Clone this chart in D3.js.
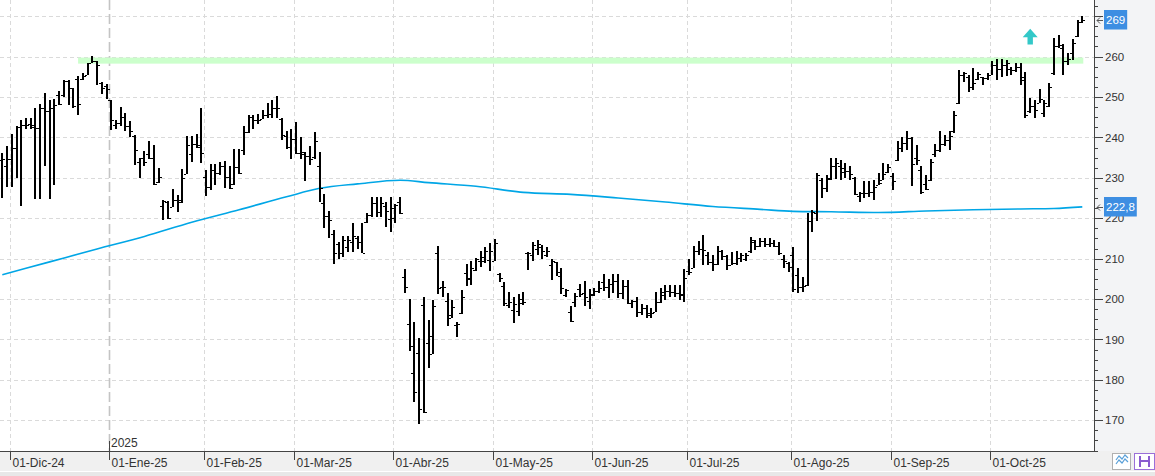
<!DOCTYPE html>
<html>
<head>
<meta charset="utf-8">
<script src="https://cdn.jsdelivr.net/npm/d3@7"></script>
<style>
html, body { margin: 0; padding: 0; background: #fff; }
svg { display: block; font-family: "Liberation Sans", Arial, sans-serif; }
</style>
</head>
<body>
<div id="chart"></div>
<script>
// daily bars, NYSE calendar
var firstDay = "2024-11-27", lastDay = "2025-10-28";
var holidays = ["2024-11-28", "2024-12-25", "2025-01-01", "2025-01-09", "2025-01-20",
                "2025-02-17", "2025-04-18", "2025-05-26", "2025-06-19", "2025-07-04", "2025-09-01"];

var highs = [
  236.1,237.9,240.8,242.8,244.3,244.7,244.7,247.2,248.2,250.9,
  249.3,249.4,251.5,254.2,254.3,252.3,255.2,255.9,258.5,260.2,
  259.0,253.8,253.3,249.3,244.2,247.5,246.0,244.0,240.5,235.0,
  236.6,239.2,238.2,232.4,224.5,224.3,227.2,225.8,232.2,240.3,
  240.3,240.8,247.2,232.0,233.3,233.4,234.0,234.2,232.8,237.1,
  237.2,242.8,245.5,245.5,245.9,246.8,248.4,249.3,250.2,244.9,
  241.7,242.1,243.9,240.2,236.3,237.9,241.4,236.3,226.0,221.8,
  217.1,214.0,215.5,215.5,218.7,215.5,218.7,221.2,225.2,225.2,
  225.2,224.1,225.2,223.4,225.2,207.5,199.9,194.3,190.3,200.6,
  194.7,199.8,213.1,204.4,201.6,199.8,194.4,202.2,208.6,209.3,
  210.1,211.9,212.8,213.9,214.9,206.5,204.3,201.8,200.5,201.2,
  201.7,211.7,214.0,214.5,213.4,213.0,210.0,209.2,207.7,202.5,
  198.4,201.4,203.7,204.5,202.6,202.8,204.5,206.3,204.9,206.1,
  206.3,204.6,204.7,199.8,200.6,198.7,198.5,197.7,201.8,202.7,
  203.5,203.6,203.5,203.5,207.5,210.0,213.1,214.3,215.8,211.7,
  210.8,213.1,212.1,211.0,211.7,211.8,211.3,211.5,215.4,214.6,
  215.1,215.1,215.0,214.6,214.2,210.8,209.2,212.8,207.8,205.4,
  221.2,222.0,231.3,229.9,230.7,235.0,235.0,234.4,233.6,232.9,
  230.3,226.6,229.1,229.1,229.5,231.1,233.6,233.4,231.1,239.0,
  240.0,241.6,240.0,238.1,232.8,230.7,234.6,238.3,241.5,240.6,
  241.5,246.6,256.7,256.3,255.5,257.1,256.3,255.0,255.9,258.8,
  259.3,259.3,259.2,257.5,258.5,258.5,256.3,249.7,249.3,251.9,
  249.3,253.4,264.5,265.4,263.1,261.0,264.3,269.1,270.1
];
var lows = [
  224.9,227.8,227.8,229.9,223.1,242.2,242.2,224.7,224.7,232.8,
  224.7,228.1,248.0,250.1,248.0,247.2,245.5,254.2,255.5,258.3,
  253.0,250.8,249.4,241.9,242.1,242.7,241.5,240.2,233.2,229.9,
  232.8,234.7,228.3,228.7,219.5,219.9,222.9,221.6,223.7,231.0,
  234.0,237.3,233.6,225.6,226.9,228.2,230.7,227.4,227.3,228.2,
  230.9,235.6,241.2,242.0,243.2,244.5,244.9,244.7,244.9,239.3,
  237.2,234.7,235.9,234.7,229.1,233.2,234.7,224.1,217.5,215.0,
  208.7,209.9,210.5,211.6,211.6,212.5,211.3,218.7,220.4,220.4,
  220.4,217.9,216.5,218.9,221.0,201.4,187.1,174.5,169.2,171.8,
  183.0,186.4,201.2,200.6,193.3,195.4,190.6,196.4,203.3,203.4,
  206.9,208.0,208.9,207.0,209.3,204.1,198.3,197.9,194.1,195.8,
  198.6,207.2,209.5,211.0,210.0,210.3,204.8,205.6,201.2,200.6,
  194.4,198.1,200.4,198.4,197.6,200.8,201.6,202.1,200.3,201.4,
  200.3,200.0,198.7,197.7,195.6,196.0,195.2,195.2,196.8,199.0,
  199.8,200.6,200.6,199.8,199.3,205.9,207.6,210.8,208.4,208.4,
  206.9,208.4,209.6,207.1,208.4,208.4,209.1,209.4,211.5,212.1,
  213.0,213.0,213.0,212.8,210.8,207.6,206.8,201.8,201.6,201.8,
  203.3,216.7,219.2,224.9,226.4,229.5,229.6,229.5,229.9,229.5,
  225.8,223.9,225.0,225.3,224.5,228.2,229.5,231.3,227.0,234.2,
  236.5,236.9,228.0,233.2,226.1,227.0,229.1,235.1,236.5,237.8,
  237.0,241.1,248.3,253.8,251.3,251.8,254.2,253.0,254.2,255.5,
  254.2,255.0,255.2,255.5,256.3,253.0,244.7,246.0,244.7,248.4,
  245.1,247.5,255.5,262.1,255.5,257.9,259.2,264.8,268.3
];
var opens = [
  234.4,233.0,234.6,237.5,242.6,243.1,243.4,243.0,242.3,247.2,
  246.5,247.2,250.5,250.5,254.0,252.2,254.5,254.5,255.5,258.5,
  258.8,253.5,252.8,249.3,243.0,243.6,245.0,242.8,240.3,234.0,
  234.8,236.0,234.8,229.0,223.0,224.0,222.9,224.6,224.5,231.0,
  236.0,238.3,238.0,230.1,227.8,232.0,231.1,232.9,230.3,228.4,
  232.7,237.0,241.4,245.1,244.3,244.6,245.5,245.9,247.2,244.5,
  240.4,237.6,239.6,236.1,236.0,235.4,235.2,233.0,223.8,220.5,
  216.0,213.7,211.3,213.0,214.0,215.0,214.2,219.0,220.8,223.7,
  221.6,223.0,219.9,220.0,224.0,205.4,193.9,181.7,186.7,198.6,
  189.2,186.5,211.5,203.0,199.5,196.0,193.5,196.6,206.5,205.3,
  207.2,209.5,209.5,209.7,209.3,206.3,203.2,198.5,197.2,197.0,
  200.0,211.5,211.0,212.5,212.8,211.0,208.4,209.2,205.6,201.0,
  196.9,199.3,202.5,201.6,199.5,201.2,202.0,204.2,203.0,203.8,
  204.4,201.4,203.2,199.0,199.6,196.9,197.9,196.0,196.8,199.3,
  201.0,202.0,201.8,201.5,201.0,207.0,207.6,211.8,212.4,211.0,
  209.1,208.6,211.8,210.6,208.4,208.8,210.2,210.0,211.8,214.0,
  213.1,214.3,213.6,213.9,213.2,210.0,209.0,210.9,206.0,203.0,
  203.6,219.4,221.3,229.5,227.5,230.0,233.0,233.0,232.5,231.8,
  230.0,225.5,226.3,226.2,226.6,228.3,229.5,231.5,230.5,234.5,
  237.3,238.5,239.8,235.0,232.0,228.5,229.5,236.0,236.9,238.4,
  239.3,241.5,248.5,255.5,255.0,252.4,254.5,255.0,254.6,255.5,
  257.9,256.9,257.9,257.0,256.7,257.5,255.0,246.5,247.8,248.4,
  246.0,247.8,255.9,262.5,262.0,258.8,260.8,265.0,268.6
];
var closes = [
  234.6,234.6,237.5,242.6,243.1,243.1,242.6,242.3,247.2,246.5,
  247.2,248.0,248.3,254.0,252.2,247.8,248.3,255.2,258.5,258.8,
  257.9,252.3,251.9,244.2,243.6,245.0,242.8,241.6,236.9,234.8,
  233.9,234.8,228.5,230.1,224.3,220.0,224.6,224.1,230.0,238.0,
  238.3,237.6,236.2,227.8,232.0,231.1,232.9,230.3,227.6,232.7,
  231.1,241.4,245.1,244.3,244.4,245.5,245.9,247.2,247.2,240.6,
  237.6,239.6,236.1,236.4,235.4,234.7,239.2,227.5,220.6,219.5,
  211.3,211.3,214.6,214.6,215.5,214.2,211.5,220.8,223.7,221.6,
  223.7,221.9,222.6,223.3,221.2,203.1,188.5,177.0,172.7,172.0,
  190.8,198.3,202.7,203.1,195.4,198.0,193.9,200.6,204.9,207.8,
  209.9,210.5,211.8,212.0,213.8,205.2,199.1,199.3,198.8,198.9,
  199.3,211.3,213.3,213.5,211.9,212.0,209.4,206.8,202.8,202.2,
  194.5,200.8,201.2,200.4,200.9,202.0,202.7,203.0,203.8,204.4,
  201.4,203.2,199.0,199.6,196.9,197.9,196.5,196.6,199.3,201.8,
  202.0,201.8,201.5,201.3,205.1,206.7,211.8,212.4,212.2,209.1,
  208.6,211.8,210.6,208.4,208.8,210.2,210.9,211.0,214.6,213.1,
  214.3,213.6,213.9,213.2,211.5,209.3,208.0,202.5,203.0,203.3,
  219.4,221.6,230.7,227.5,229.6,233.0,233.6,231.5,231.8,231.0,
  226.0,226.3,226.2,226.6,227.7,228.8,231.0,232.6,229.3,237.3,
  238.5,239.8,233.5,234.4,226.6,227.2,234.0,236.9,238.4,239.3,
  240.3,245.5,255.5,255.9,252.4,253.4,255.6,254.6,255.5,257.9,
  256.9,257.9,258.3,256.7,257.5,254.2,245.6,247.8,246.8,249.5,
  248.4,252.4,262.5,262.9,258.8,259.3,263.3,268.5,269.0
];

// 200-session moving average, read at some bars
var maIndex  = [0, 10, 20, 30, 40, 50, 60, 67, 75, 84, 90, 100, 110, 120, 130,
                140, 150, 160, 167, 175, 185, 195, 205, 215, 222, 228];
var maValues = [206.0, 209.2, 212.4, 215.5, 219.0, 222.1, 225.3, 227.4, 228.5, 229.4, 228.8, 227.9, 226.4, 225.9, 225.0,
                224.0, 222.9, 222.2, 221.7, 221.6, 221.4, 221.8, 222.1, 222.3, 222.4, 222.8];

var monthLabels = ["01-Dic-24", "01-Ene-25", "01-Feb-25", "01-Mar-25", "01-Abr-25", "01-May-25",
                   "01-Jun-25", "01-Jul-25", "01-Ago-25", "01-Sep-25", "01-Oct-25"];
var yearLabel = "2025";
var yGrid = [170, 180, 190, 200, 210, 220, 230, 240, 250, 260, 270];
var yLabels = [170, 180, 190, 200, 210, 220, 230, 240, 250, 260];

var resistance = [258.25, 259.75];   // green band
var resistanceFrom = 16;             // first bar of the band
var signalBar = 217, signalRange = [263.0, 266.9];
var lastPrice = 269, lastMA = 222.8;

var W = 1155, H = 476;
var plotRight = 1094, plotBottom = 451;

var parse = d3.utcParse("%Y-%m-%d"), fmt = d3.utcFormat("%Y-%m-%d");
var dates = d3.utcDays(parse(firstDay), d3.utcDay.offset(parse(lastDay), 1))
  .filter(function(d) { return d.getUTCDay() % 6 !== 0 && holidays.indexOf(fmt(d)) < 0; })
  .map(fmt);

var x = d3.scalePoint().domain(dates).range([2.3, 1082.3]);
var y = d3.scaleLinear().domain([162.4, 274.0]).range([plotBottom, 0]);

var svg = d3.select("#chart").append("svg")
  .attr("width", W)
  .attr("height", H);

// backgrounds
svg.append("rect").attr("x", 0).attr("y", 0).attr("width", W).attr("height", H).attr("fill", "#fff");
svg.append("rect").attr("x", plotRight).attr("y", 0).attr("width", W - plotRight).attr("height", plotBottom).attr("fill", "#f3f4f6");
svg.append("rect").attr("x", 0).attr("y", plotBottom).attr("width", W).attr("height", H - plotBottom).attr("fill", "#f0f0f0");
svg.append("rect").attr("x", 0).attr("y", 471).attr("width", W).attr("height", 1).attr("fill", "#fff");
svg.append("rect").attr("x", 0).attr("y", 472).attr("width", W).attr("height", 4).attr("fill", "#e8e8e8");

// month starts
var monthStarts = [];
dates.forEach(function(d, i) {
  if (i > 0 && d.slice(0, 7) !== dates[i - 1].slice(0, 7)) monthStarts.push(d);
});
var months = monthStarts.map(function(d, k) { return { d: d, label: monthLabels[k] }; })
  .filter(function(m) { return m.label; });

function gx(d) { return Math.round(x(d)) - 1.5; }

// grid
var grid = svg.append("g");
grid.selectAll("line.h").data(yGrid).enter().append("line")
  .attr("x1", 0).attr("x2", plotRight)
  .attr("y1", function(d) { return Math.round(y(d)) + 0.5; })
  .attr("y2", function(d) { return Math.round(y(d)) + 0.5; })
  .attr("stroke", "#dadada").attr("stroke-dasharray", "4,3");
grid.selectAll("line.v").data(months).enter().append("line")
  .attr("x1", function(m) { return gx(m.d); })
  .attr("x2", function(m) { return gx(m.d); })
  .attr("y1", 0).attr("y2", plotBottom)
  .attr("stroke", function(m) { return m.d.slice(5, 7) === "01" ? "#c4c4c4" : "#dadada"; })
  .attr("stroke-width", function(m) { return m.d.slice(5, 7) === "01" ? 1.6 : 1; })
  .attr("stroke-dasharray", function(m) { return m.d.slice(5, 7) === "01" ? "10,4" : "4,3"; });

// resistance band
svg.append("rect")
  .attr("x", x(dates[resistanceFrom]))
  .attr("y", y(resistance[1]))
  .attr("width", x(dates[dates.length - 1]) - x(dates[resistanceFrom]) + 1)
  .attr("height", y(resistance[0]) - y(resistance[1]))
  .attr("fill", "#ccffcc");

// moving average
var ma = d3.line()
  .x(function(i) { return x(dates[i]); })
  .y(function(i, k) { return y(maValues[k]); })
  .curve(d3.curveMonotoneX);
svg.append("path")
  .attr("d", ma(maIndex))
  .attr("fill", "none")
  .attr("stroke", "#00a6e6")
  .attr("stroke-width", 1.6);

// OHLC bars
var data = dates.map(function(d, i) {
  return { d: d, o: opens[i], h: highs[i], l: lows[i], c: closes[i] };
}).filter(function(b) { return b.h != null; });

var bars = svg.append("g").attr("shape-rendering", "crispEdges").attr("fill", "#000");
bars.selectAll("rect.hl").data(data).enter().append("rect")
  .attr("x", function(b) { return Math.round(x(b.d)) - 1; })
  .attr("y", function(b) { return Math.round(y(b.h)); })
  .attr("width", 2)
  .attr("height", function(b) { return Math.max(1, Math.round(y(b.l)) - Math.round(y(b.h))); });
bars.selectAll("rect.o").data(data).enter().append("rect")
  .attr("x", function(b) { return Math.round(x(b.d)) - 3; })
  .attr("y", function(b) { return Math.round(y(b.o)); })
  .attr("width", 2).attr("height", 1);
bars.selectAll("rect.c").data(data).enter().append("rect")
  .attr("x", function(b) { return Math.round(x(b.d)) + 1; })
  .attr("y", function(b) { return Math.round(y(b.c)); })
  .attr("width", 2).attr("height", 1);

// signal arrow
var ax = x(dates[signalBar]), aTop = y(signalRange[1]), aBot = y(signalRange[0]);
var aHead = aTop + (aBot - aTop) * 0.55;
svg.append("path")
  .attr("d", "M" + ax + "," + aTop + "L" + (ax + 7.5) + "," + aHead + "L" + (ax + 2.7) + "," + aHead +
             "L" + (ax + 2.7) + "," + aBot + "L" + (ax - 2.7) + "," + aBot + "L" + (ax - 2.7) + "," + aHead +
             "L" + (ax - 7.5) + "," + aHead + "Z")
  .attr("fill", "#33c8c8");

// right axis
var ra = svg.append("g").attr("shape-rendering", "crispEdges");
ra.append("line").attr("x1", plotRight + 0.5).attr("x2", plotRight + 0.5)
  .attr("y1", 0).attr("y2", plotBottom).attr("stroke", "#444");
var minorTicks = d3.range(162.5, 274, 2.5);
ra.selectAll("line.t").data(minorTicks).enter().append("line")
  .attr("x1", plotRight)
  .attr("x2", function(v) { return v % 10 === 0 ? plotRight + 9 : plotRight + 4; })
  .attr("y1", function(v) { return Math.round(y(v)) + 0.5; })
  .attr("y2", function(v) { return Math.round(y(v)) + 0.5; })
  .attr("stroke", "#444");
svg.append("g").selectAll("text").data(yLabels).enter().append("text")
  .attr("x", plotRight + 11)
  .attr("y", function(v) { return y(v); })
  .attr("dy", "0.36em")
  .attr("font-size", "11.5px")
  .attr("fill", "#333")
  .text(function(v) { return v; });

// value tags
function tag(v, label) {
  var cy = Math.round(y(v));
  var g = svg.append("g");
  g.append("path")
    .attr("d", "M" + (plotRight + 3) + "," + (cy + 0.5) + "h6 M" + (plotRight + 3) + "," + (cy + 0.5) +
               "l3,-3 M" + (plotRight + 3) + "," + (cy + 0.5) + "l3,3")
    .attr("stroke", "#555").attr("fill", "none");
  var r = g.append("rect").attr("x", plotRight + 10).attr("y", cy - 10).attr("height", 19.5).attr("fill", "#3d8ee2");
  var t = g.append("text").attr("x", plotRight + 12).attr("y", cy).attr("dy", "0.36em")
    .attr("font-size", "11.5px").attr("fill", "#fff").text(label);
  r.attr("width", t.node().getComputedTextLength() + 4);
}
tag(lastPrice, String(lastPrice));
tag(lastMA, String(lastMA).replace(".", ","));

// bottom axis
var ba = svg.append("g").attr("shape-rendering", "crispEdges");
ba.append("line").attr("x1", 0).attr("x2", plotRight + 1)
  .attr("y1", plotBottom + 0.5).attr("y2", plotBottom + 0.5).attr("stroke", "#444");
ba.selectAll("line.m").data(months).enter().append("line")
  .attr("x1", function(m) { return gx(m.d); })
  .attr("x2", function(m) { return gx(m.d); })
  .attr("y1", plotBottom).attr("y2", plotBottom + 9)
  .attr("stroke", "#444");
svg.append("g").selectAll("text").data(months).enter().append("text")
  .attr("x", function(m) { return gx(m.d) + 2; })
  .attr("y", 467)
  .attr("font-size", "12px")
  .attr("fill", "#333")
  .text(function(m) { return m.label; });

var jan = months.filter(function(m) { return m.d.slice(5, 7) === "01"; });
ba.selectAll("line.y").data(jan).enter().append("line")
  .attr("x1", function(m) { return gx(m.d); })
  .attr("x2", function(m) { return gx(m.d); })
  .attr("y1", plotBottom - 10).attr("y2", plotBottom)
  .attr("stroke", "#444");
svg.append("g").selectAll("text").data(jan).enter().append("text")
  .attr("x", function(m) { return gx(m.d) + 1.5; })
  .attr("y", 447)
  .attr("font-size", "12px")
  .attr("fill", "#333")
  .text(yearLabel);

// little buttons bottom right
var btn = svg.append("g");
btn.append("rect").attr("x", 1112.5).attr("y", 453.5).attr("width", 18).attr("height", 16)
  .attr("fill", "#fff").attr("stroke", "#b0b0b0");
btn.append("path").attr("d", "M1116,464 l3,-4 l3,3 l3,-4 l3,3 M1116,460 l3,-4 l3,3 l3,-4 l3,3")
  .attr("fill", "none").attr("stroke", "#5aa0d8").attr("stroke-width", 1.2);
btn.append("rect").attr("x", 1134.5).attr("y", 453.5).attr("width", 20).attr("height", 16)
  .attr("fill", "#fff").attr("stroke", "#9a6fd8");
btn.append("rect").attr("x", 1139).attr("y", 456).attr("width", 11).attr("height", 11).attr("fill", "#8a5cd0");
btn.append("rect").attr("x", 1141).attr("y", 456).attr("width", 7).attr("height", 4).attr("fill", "#fff");
btn.append("rect").attr("x", 1141).attr("y", 462).attr("width", 7).attr("height", 5).attr("fill", "#fff");
</script>
</body>
</html>
